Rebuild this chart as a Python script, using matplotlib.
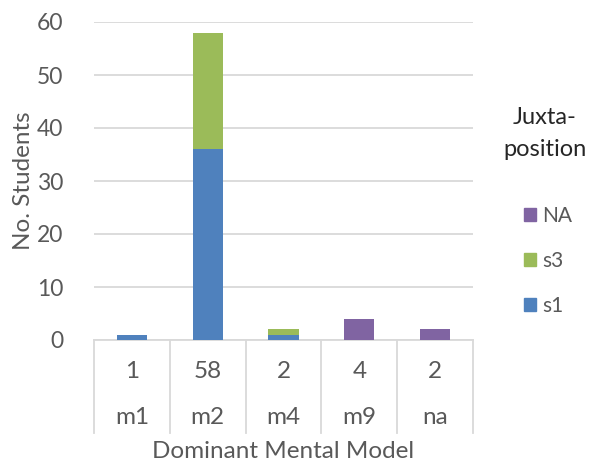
import matplotlib.pyplot as plt
import matplotlib.transforms as mtransforms
from matplotlib.patches import Patch

models = ['m1', 'm2', 'm4', 'm9', 'na']
s1 = [1, 36, 1, 0, 0]
s3 = [0, 22, 1, 0, 0]
na = [0, 0, 0, 4, 2]
totals = [1, 58, 2, 4, 2]

c_s1 = '#4F81BD'
c_s3 = '#9BBB59'
c_na = '#8064A2'
txt = '#595959'
grid = '#D9D9D9'

plt.rcParams['font.family'] = ['Lato', 'DejaVu Sans']

W, H = 591, 463
fig = plt.figure(figsize=(W / 100, H / 100), dpi=100)
x0, x1, ytop, ybot = 94, 473, 22, 340
ax = fig.add_axes([x0 / W, (H - ybot) / H, (x1 - x0) / W, (ybot - ytop) / H])

xs = range(len(models))
bw = 0.4
ax.bar(xs, s1, bw, color=c_s1, zorder=3)
ax.bar(xs, s3, bw, bottom=s1, color=c_s3, zorder=3)
bottom2 = [a + b for a, b in zip(s1, s3)]
ax.bar(xs, na, bw, bottom=bottom2, color=c_na, zorder=3)

ax.set_xlim(-0.5, len(models) - 0.5)
ax.set_ylim(0, 60)
ax.set_yticks(range(0, 61, 10))
ax.yaxis.grid(True, color=grid, linewidth=1.3, zorder=0)
ax.tick_params(axis='y', length=0, labelsize=16.5, labelcolor=txt, pad=22)
ax.set_xticks([])
for s in ['top', 'right', 'left']:
    ax.spines[s].set_visible(False)
ax.spines['bottom'].set_color(grid)
ax.spines['bottom'].set_linewidth(1.3)
ax.set_ylabel('No. Students', fontsize=17.5, color=txt)
ax.yaxis.set_label_coords((34 - x0) / (x1 - x0), 0.5)

# category table under the axis
tr = mtransforms.blended_transform_factory(ax.transData, ax.transAxes)
h = ybot - ytop
depth = (433 - ybot) / h
for i in range(len(models) + 1):
    ax.plot([i - 0.5, i - 0.5], [0, -depth], color=grid, linewidth=1.3,
            transform=tr, clip_on=False)
for i, m in enumerate(models):
    ax.text(i, -(371 - ybot) / h, str(totals[i]), transform=tr, ha='center',
            va='center', fontsize=17.5, color=txt)
    ax.text(i, -(418 - ybot) / h, m, transform=tr, ha='center',
            va='center', fontsize=17.5, color=txt)
ax.text(0.5, -(451 - ybot) / h, 'Dominant Mental Model', transform=ax.transAxes,
        ha='center', va='center', fontsize=17.5, color=txt)

# legend
fig.text(545 / W, 1 - 117 / H, 'Juxta-', ha='center', va='center',
         fontsize=17, color='#262626')
fig.text(545 / W, 1 - 150 / H, 'position', ha='center', va='center',
         fontsize=17, color='#262626')
handles = [Patch(color=c_na, label='NA'), Patch(color=c_s3, label='s3'),
           Patch(color=c_s1, label='s1')]
fig.legend(handles=handles, loc='center left',
           bbox_to_anchor=(505 / W, 1 - 261 / H), frameon=False,
           fontsize=15, labelcolor=txt, handlelength=0.6, handleheight=0.6,
           handletextpad=0.3, labelspacing=1.2)

fig.savefig('out.png', dpi=100)
